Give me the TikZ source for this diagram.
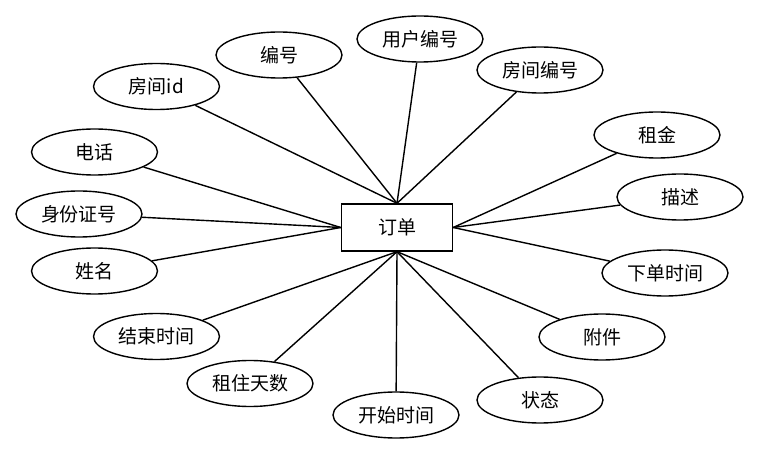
\documentclass[tikz,border=0pt]{standalone}
\usepackage{fontspec}
\setmainfont{Noto Sans CJK SC}
\usetikzlibrary{shapes.geometric}
\begin{document}
\begin{tikzpicture}[x=1pt,y=-1pt,
  attr/.style={draw,ellipse,line width=1.4pt,minimum width=126pt,minimum height=46pt,inner sep=0pt,font=\fontsize{19}{22}\selectfont},
  ent/.style={draw,rectangle,line width=1.4pt,minimum width=111pt,minimum height=47pt,inner sep=0pt,font=\fontsize{19}{22}\selectfont},
  link/.style={line width=1.4pt}]
\useasboundingbox (0,0) rectangle (761,457);
\node[ent] (o) at (397,227.5) {订单};
\node[attr] (a1) at (156.5,86.5) {房间id};
\node[attr] (a2) at (279,55) {编号};
\node[attr] (a3) at (420,39) {用户编号};
\node[attr] (a4) at (540,70) {房间编号};
\node[attr] (a5) at (657,135) {租金};
\node[attr] (a6) at (680,197) {描述};
\node[attr] (a7) at (665,273) {下单时间};
\node[attr] (a8) at (602,337) {附件};
\node[attr] (a9) at (540,400) {状态};
\node[attr] (a10) at (396,415) {开始时间};
\node[attr] (a11) at (250,383.5) {租住天数};
\node[attr] (a12) at (156.5,336.5) {结束时间};
\node[attr] (a13) at (94.5,271) {姓名};
\node[attr] (a14) at (79,214) {身份证号};
\node[attr] (a15) at (94.5,152) {电话};
\foreach \n in {a1,a2,a3,a4} \draw[link] (o.north) -- (\n);
\foreach \n in {a5,a6,a7} \draw[link] (o.east) -- (\n);
\foreach \n in {a8,a9,a10,a11,a12} \draw[link] (o.south) -- (\n);
\foreach \n in {a13,a14,a15} \draw[link] (o.west) -- (\n);
\end{tikzpicture}
\end{document}
